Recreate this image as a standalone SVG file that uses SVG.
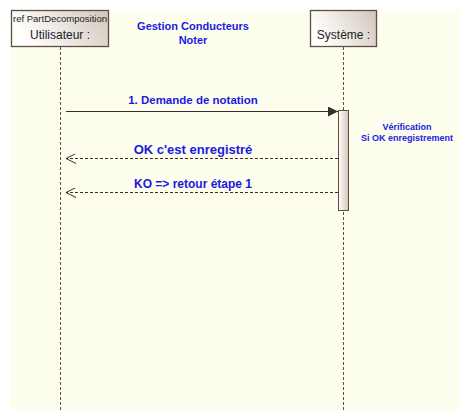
<svg xmlns="http://www.w3.org/2000/svg" width="469" height="420" viewBox="0 0 469 420">
<style>
.bg{fill:#FEFEEF}
.box{fill:url(#g);stroke:#5E4E40;stroke-width:1.3}
.life{stroke:#5E4E40;stroke-width:1;stroke-dasharray:3,2;fill:none}
.msg{stroke:#3A2E26;stroke-width:1;fill:none}
.ret{stroke:#3A2E26;stroke-width:1;stroke-dasharray:3,2;fill:none}
.t{font-family:"Liberation Sans",Arial,sans-serif;fill:#1A1AE0;font-weight:bold;text-anchor:middle}
.n{font-family:"Liberation Sans",Arial,sans-serif;fill:#222;text-anchor:middle}
</style>
<defs>
<linearGradient id="g" x1="1" y1="0" x2="0" y2="0.3">
<stop offset="0" stop-color="#D2C6BA"/>
<stop offset="1" stop-color="#FFFFFF"/>
</linearGradient>
<linearGradient id="ga" x1="0" y1="0" x2="1" y2="0">
<stop offset="0" stop-color="#FFFFFF"/>
<stop offset="1" stop-color="#D2C6BA"/>
</linearGradient>
<marker id="fa" viewBox="0 0 10 10" refX="10" refY="5" markerWidth="10" markerHeight="10" markerUnits="userSpaceOnUse" orient="auto">
<path d="M0,0 L10,5 L0,10 z" fill="#3A2E26"/>
</marker>
<marker id="oa" viewBox="0 0 10 10" refX="10" refY="5" markerWidth="10" markerHeight="10" markerUnits="userSpaceOnUse" orient="auto">
<path d="M0,0 L10,5 L0,10" fill="none" stroke="#3A2E26" stroke-width="1"/>
</marker>
</defs>
<rect class="bg" x="10" y="10" width="449" height="400"/>
<text class="t" x="193" y="30" font-size="11">Gestion Conducteurs</text>
<text class="t" x="193" y="44" font-size="11">Noter</text>
<g id="connectors">
<line class="life" x1="60.5" y1="47" x2="60.5" y2="410"/>
<line class="life" x1="343.5" y1="47" x2="343.5" y2="410"/>
<line class="msg" x1="66" y1="111.5" x2="338" y2="111.5" marker-end="url(#fa)"/>
<line class="ret" x1="338" y1="158.5" x2="66" y2="158.5" marker-end="url(#oa)"/>
<line class="ret" x1="338" y1="192.5" x2="66" y2="192.5" marker-end="url(#oa)"/>
<text class="t" x="193" y="104" font-size="11.5">1. Demande de notation</text>
<text class="t" x="193" y="154" font-size="13">OK c'est enregistré</text>
<text class="t" x="193" y="188" font-size="12">KO =&gt; retour étape 1</text>
</g>
<g id="utilisateur">
<rect class="box" x="11.5" y="10.5" width="97" height="36"/>
<text class="n" x="60" y="22" font-size="9.5" textLength="94" lengthAdjust="spacingAndGlyphs">ref PartDecomposition</text>
<text class="n" x="60" y="39" font-size="12">Utilisateur :</text>
</g>
<g id="systeme">
<rect class="box" x="310.5" y="10.5" width="66" height="36"/>
<text class="n" x="343.5" y="39" font-size="12">Système :</text>
</g>
<g id="activation">
<rect x="338.5" y="110.5" width="10" height="100" fill="url(#ga)" stroke="#5E4E40" stroke-width="1"/>
</g>
<g id="note">
<text class="t" x="407" y="130" font-size="9">Vérification</text>
<text class="t" x="407" y="141" font-size="9">Si OK enregistrement</text>
</g>
</svg>
